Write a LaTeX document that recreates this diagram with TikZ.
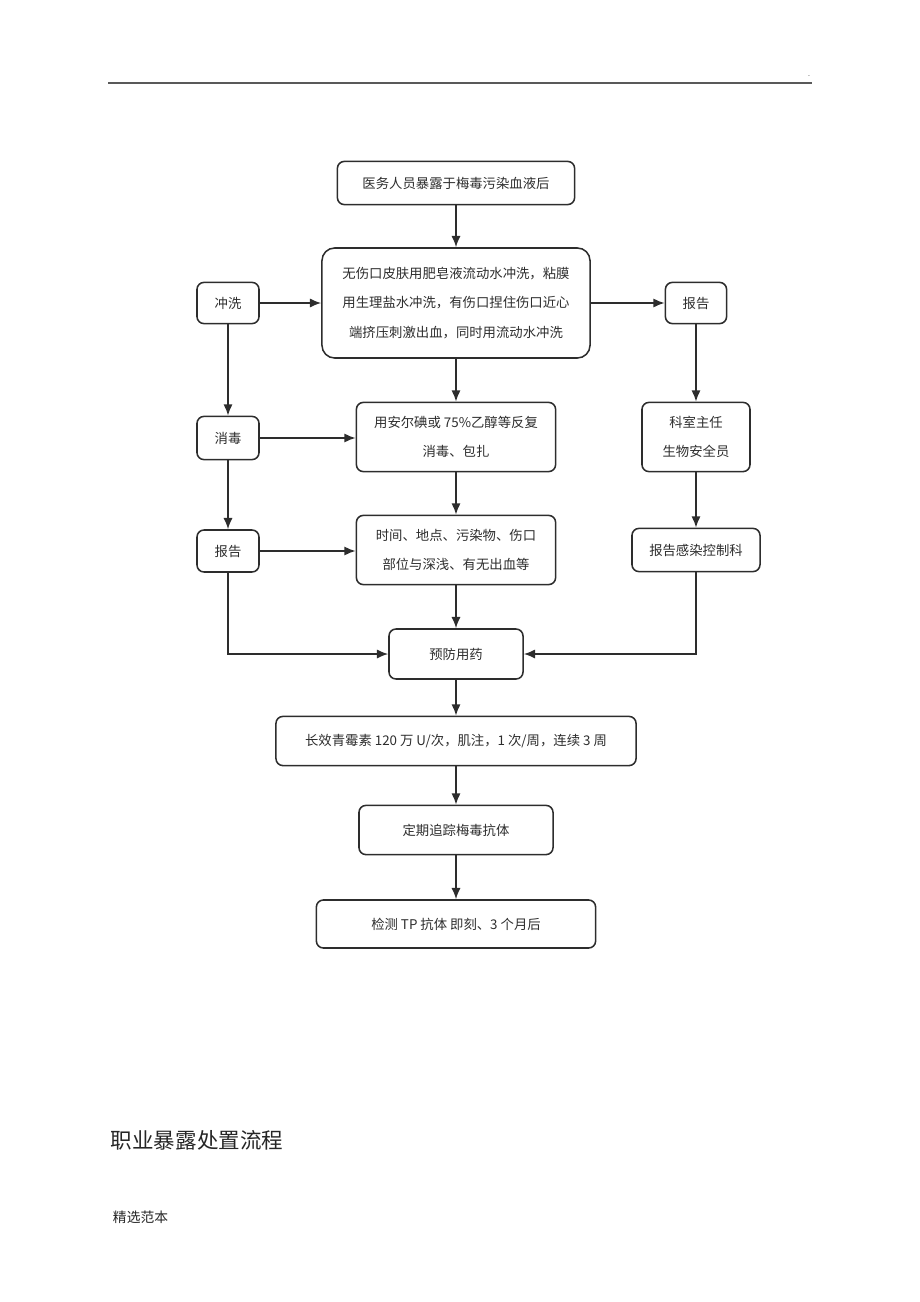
\documentclass[tikz,border=0pt]{standalone}
\usepackage{fontspec}
\setmainfont{Noto Sans CJK SC}
\usepackage{tikz}
\usetikzlibrary{arrows.meta}
\definecolor{ink}{RGB}{45,45,45}

\begin{document}
\begin{tikzpicture}[x=0.025cm,y=-0.025cm,
  box/.style={draw=ink,text=ink,line width=1.1pt,rounded corners=5pt,align=center,
    inner sep=0pt,font=\fontsize{9.5}{21}\selectfont},
  flow/.style={draw=ink,line width=1.1pt,-{Latex[length=8pt,width=6.5pt]}}]
 \useasboundingbox (0,0) rectangle (920,1302);
 \draw[line width=1.2pt,black!65] (108,83) -- (812,83);
 \node[font=\fontsize{5}{6}\selectfont] (dot) at (809,76) {.};

 \node[box,minimum width=5.93cm,minimum height=1.08cm] (exposed) at (456,183) {医务人员暴露于梅毒污染血液后};
 \node[box,rounded corners=9pt,minimum width=6.7cm,minimum height=2.75cm] (wash) at (456,303)
   {无伤口皮肤用肥皂液流动水冲洗，粘膜\\用生理盐水冲洗，有伤口捏住伤口近心\\端挤压刺激出血，同时用流动水冲洗};
 \node[box,minimum width=1.55cm,minimum height=1.03cm] (rinse) at (228,303) {冲洗};
 \node[box,minimum width=1.53cm,minimum height=1.03cm] (reportR) at (696,303) {报告};
 \node[box,minimum width=1.55cm,minimum height=1.08cm] (disinf) at (228,438) {消毒};
 \node[box,minimum width=4.98cm,minimum height=1.73cm] (iodine) at (456,437) {用安尔碘或 75\%乙醇等反复\\消毒、包扎};
 \node[box,minimum width=2.7cm,minimum height=1.73cm] (head) at (696,437) {科室主任\\生物安全员};
 \node[box,minimum width=1.55cm,minimum height=1.05cm] (reportL) at (228,551) {报告};
 \node[box,minimum width=4.98cm,minimum height=1.73cm] (record) at (456,550) {时间、地点、污染物、伤口\\部位与深浅、有无出血等};
 \node[box,minimum width=3.2cm,minimum height=1.08cm] (infect) at (696,550) {报告感染控制科};
 \node[box,minimum width=3.35cm,minimum height=1.25cm] (drug) at (456,654) {预防用药};
 \node[box,minimum width=9.0cm,minimum height=1.23cm] (penicillin) at (456,741) {长效青霉素 120 万 U/次，肌注，1 次/周，连续 3 周};
 \node[box,minimum width=4.85cm,minimum height=1.23cm] (follow) at (456,830) {定期追踪梅毒抗体};
 \node[box,minimum width=6.98cm,minimum height=1.2cm] (test) at (456,924) {检测 TP 抗体 即刻、3 个月后};

 \draw[flow] (exposed) -- (wash);
 \draw[flow] (rinse) -- (wash);
 \draw[flow] (wash) -- (reportR);
 \draw[flow] (wash) -- (iodine);
 \draw[flow] (rinse) -- (disinf);
 \draw[flow] (disinf) -- (iodine.west |- disinf);
 \draw[flow] (iodine) -- (record);
 \draw[flow] (disinf) -- (reportL);
 \draw[flow] (reportL) -- (record.west |- reportL);
 \draw[flow] (record) -- (drug);
 \draw[flow] (reportL) |- (drug);
 \draw[flow] (reportR) -- (head);
 \draw[flow] (head) -- (infect);
 \draw[flow] (infect) |- (drug);
 \foreach \a/\b in {drug/penicillin,penicillin/follow,follow/test}
   \draw[flow] (\a) -- (\b);

 \node[anchor=west,text=black!85,font=\fontsize{15.3}{18}\selectfont] (title) at (106,1140) {职业暴露处置流程};
 \node[anchor=west,text=black!85,font=\fontsize{9.8}{12}\selectfont] (note) at (108,1217) {精选范本};
\end{tikzpicture}
\end{document}
